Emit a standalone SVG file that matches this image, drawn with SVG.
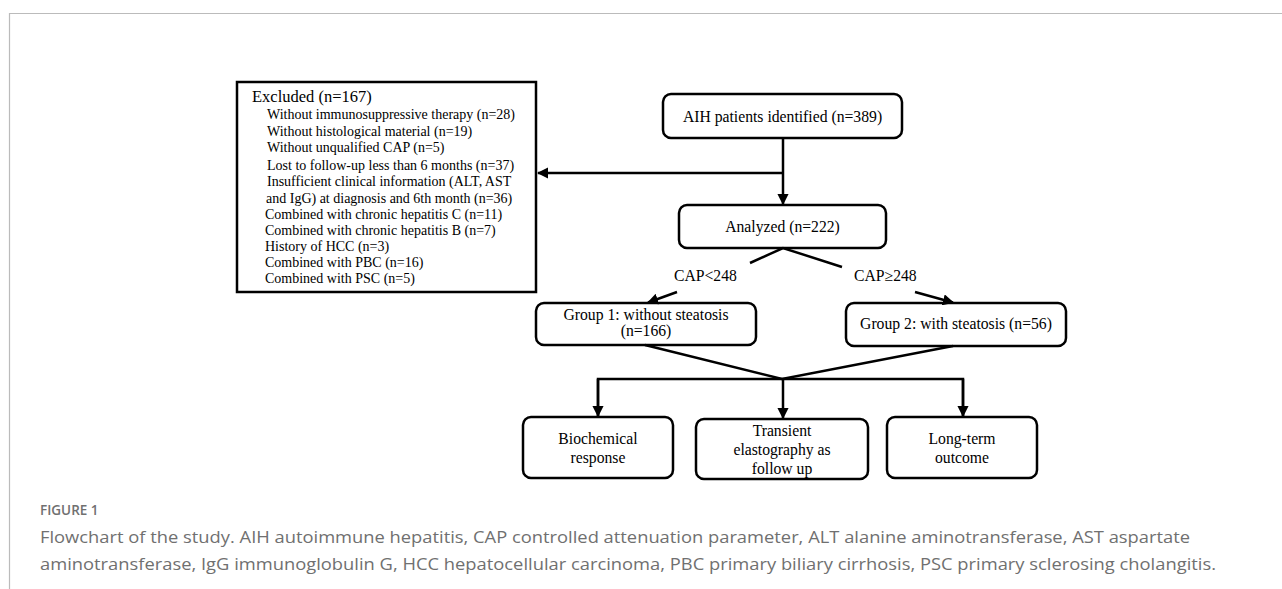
<svg xmlns="http://www.w3.org/2000/svg" width="1282" height="589" viewBox="0 0 1282 589">
<defs>
<style>
.box{fill:#fff;stroke:#000;stroke-width:2.5}
.t{font-family:"Liberation Serif","Times New Roman",serif;fill:#000}
.m{font-size:15.7px;text-anchor:middle}
.s{font-size:14px}
.ln{fill:none;stroke:#000;stroke-width:2.5}
.cap{font-family:"Open Sans","Liberation Sans",sans-serif;fill:#707070}
</style>
<marker id="ah" viewBox="0 0 10 10" refX="9" refY="5" markerWidth="4.5" markerHeight="4.5" orient="auto" markerUnits="strokeWidth">
<path d="M0,0 L10,5 L0,10 z" fill="#000"/>
</marker>
</defs>
<rect width="1282" height="589" fill="#fff"/>
<path d="M9.5,589 V13.5 H1282" fill="none" stroke="#bbb" stroke-width="1.2"/>

<g id="excluded">
<rect class="box" x="237" y="82" width="299" height="210"/>
<text class="t" x="252" y="102" font-size="16.5">Excluded (n=167)</text>
<text class="t s" x="267" y="119">Without immunosuppressive therapy (n=28)</text>
<text class="t s" x="267" y="135.5">Without histological material (n=19)</text>
<text class="t s" x="267" y="152">Without unqualified CAP (n=5)</text>
<text class="t s" x="267" y="169.5">Lost to follow-up less than 6 months (n=37)</text>
<text class="t s" x="267" y="186">Insufficient clinical information (ALT, AST</text>
<text class="t s" x="266" y="202.5">and IgG) at diagnosis and 6th month (n=36)</text>
<text class="t s" x="265" y="218.5">Combined with chronic hepatitis C (n=11)</text>
<text class="t s" x="265" y="235">Combined with chronic hepatitis B (n=7)</text>
<text class="t s" x="265" y="251">History of HCC (n=3)</text>
<text class="t s" x="265" y="267">Combined with PBC (n=16)</text>
<text class="t s" x="265" y="283">Combined with PSC (n=5)</text>
</g>

<g id="aih">
<rect class="box" x="663" y="94" width="239" height="44" rx="8"/>
<text class="t m" x="782.5" y="122">AIH patients identified (n=389)</text>
</g>

<g id="analyzed">
<rect class="box" x="679" y="205" width="207" height="43" rx="8"/>
<text class="t m" x="782.5" y="232">Analyzed (n=222)</text>
</g>

<g id="group1">
<rect class="box" x="536" y="303" width="220" height="42" rx="8"/>
<text class="t m" x="646" y="320">Group 1: without steatosis</text>
<text class="t m" x="646" y="336">(n=166)</text>
</g>

<g id="group2">
<rect class="box" x="846" y="303" width="220" height="43" rx="8"/>
<text class="t m" x="956" y="329">Group 2: with steatosis (n=56)</text>
</g>

<g id="biochemical">
<rect class="box" x="523" y="417" width="150" height="61" rx="8"/>
<text class="t m" x="598" y="444">Biochemical</text>
<text class="t m" x="598" y="463">response</text>
</g>

<g id="transient">
<rect class="box" x="696" y="419" width="172" height="60" rx="8"/>
<text class="t m" x="782" y="436">Transient</text>
<text class="t m" x="782" y="455">elastography as</text>
<text class="t m" x="782" y="474">follow up</text>
</g>

<g id="longterm">
<rect class="box" x="887" y="417" width="150" height="61" rx="8"/>
<text class="t m" x="962" y="444">Long-term</text>
<text class="t m" x="962" y="463">outcome</text>
</g>

<g id="connectors">
<line class="ln" x1="783" y1="138" x2="783" y2="204" marker-end="url(#ah)"/>
<line class="ln" x1="783" y1="173" x2="538" y2="173" marker-end="url(#ah)"/>
<polyline class="ln" points="750,263 783,248 842,267"/>
<text class="t" x="674" y="281" font-size="15.7">CAP&lt;248</text>
<text class="t" x="854" y="281" font-size="15.7">CAP≥248</text>
<line class="ln" x1="677" y1="292" x2="648" y2="302.5" marker-end="url(#ah)"/>
<line class="ln" x1="915" y1="292" x2="953" y2="302.5" marker-end="url(#ah)"/>
<polyline class="ln" points="645,345 782,379 953,346"/>
<polyline class="ln" points="598,417 598,379 963,379 963,417"/>
<line class="ln" x1="598" y1="379" x2="598" y2="416" marker-end="url(#ah)"/>
<line class="ln" x1="963" y1="379" x2="963" y2="416" marker-end="url(#ah)"/>
<line class="ln" x1="783" y1="379" x2="783" y2="418" marker-end="url(#ah)"/>
</g>

<g id="caption">
<text class="cap" x="40" y="515" font-size="13.5" font-weight="600" fill="#555">FIGURE 1</text>
<text class="cap" x="40" y="543" font-size="17" textLength="1150" lengthAdjust="spacingAndGlyphs">Flowchart of the study. AIH autoimmune hepatitis, CAP controlled attenuation parameter, ALT alanine aminotransferase, AST aspartate</text>
<text class="cap" x="40" y="570" font-size="17" textLength="1176" lengthAdjust="spacingAndGlyphs">aminotransferase, IgG immunoglobulin G, HCC hepatocellular carcinoma, PBC primary biliary cirrhosis, PSC primary sclerosing cholangitis.</text>
</g>
</svg>
